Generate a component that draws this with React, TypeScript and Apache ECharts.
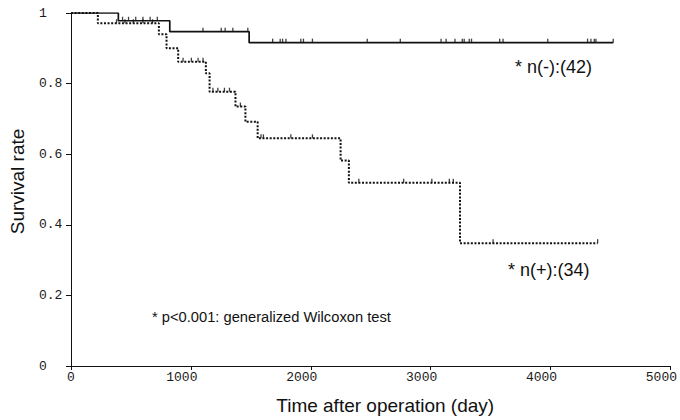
import React, { useEffect, useRef } from "react";
import * as echarts from "echarts";

// n(-) group: Kaplan-Meier step points (day, survival)
const negTimes = [0, 395, 824, 1486, 4523];
const negSurv = [1, 0.978, 0.947, 0.916, 0.916];
const negCensorDays = [
  430, 480, 540, 600, 660, 720, 1101, 1253, 1286, 1350, 1475, 1682, 1745, 1765, 1793,
  1917, 1939, 2014, 2471, 2747, 3087, 3129, 3203, 3264, 3280, 3322, 3341, 3576, 3604,
  3977, 4309, 4337, 4365, 4379, 4523,
];

// n(+) group
const posTimes = [0, 224, 733, 797, 894, 1125, 1156, 1372, 1455, 1557, 2249, 2318, 3245, 4393];
const posSurv = [1, 0.971, 0.94, 0.9, 0.862, 0.829, 0.777, 0.735, 0.692, 0.645, 0.582, 0.519, 0.348, 0.348];
const posCensorDays = [
  380, 450, 520, 600, 680, 935, 1004, 1060, 1101, 1184, 1225, 1280, 1322, 1413, 1585,
  1605, 1834, 2014, 2401, 2775, 3010, 3156, 3189, 3521, 4393,
];

const xTicks = [0, 1000, 2000, 3000, 4000, 5000];
const yTicks = [0, 0.2, 0.4, 0.6, 0.8, 1];

const survAt = (times: number[], surv: number[], t: number) => {
  let s = surv[0];
  for (let i = 0; i < times.length; i++) if (times[i] <= t) s = surv[i];
  return s;
};

export default function App() {
  const ref = useRef<HTMLDivElement>(null);
  useEffect(() => {
    if (!ref.current) return;
    const chart = echarts.init(ref.current, null, { renderer: "svg" });
    const ink = "#111";
    const mono = "Liberation Mono";
    const sans = "Liberation Sans";
    chart.setOption({
      animation: false,
      grid: { left: 69, right: 8, top: 13, bottom: 54 },
      xAxis: {
        type: "value",
        min: xTicks[0],
        max: xTicks[xTicks.length - 1],
        interval: 1000,
        name: "Time after operation (day)",
        nameLocation: "middle",
        nameGap: 30,
        nameTextStyle: { fontFamily: sans, fontSize: 19, color: ink, padding: [0, 0, 0, 29] },
        axisLine: { lineStyle: { color: ink, width: 1 } },
        axisTick: { length: 4, lineStyle: { color: ink } },
        splitLine: { show: false },
        axisLabel: {
          margin: 5,
          fontFamily: mono,
          fontSize: 13,
          color: "#1a1a1a",
          formatter: (v: number) => (v === 0 ? "0" : `{r|${v}}`),
          rich: { r: { fontFamily: mono, fontSize: 13, color: "#1a1a1a", padding: [0, 18, 0, 0] } },
        },
      },
      yAxis: {
        type: "value",
        min: yTicks[0],
        max: yTicks[yTicks.length - 1],
        interval: 0.2,
        name: "Survival rate",
        nameLocation: "middle",
        nameGap: 44,
        nameTextStyle: { fontFamily: sans, fontSize: 19, color: ink, padding: [0, 0, 0, 16] },
        axisLine: { show: true, lineStyle: { color: ink, width: 1 } },
        axisTick: { show: true, length: 5, lineStyle: { color: ink } },
        splitLine: { show: false },
        axisLabel: {
          margin: 32,
          align: "left",
          fontFamily: mono,
          fontSize: 13,
          color: "#1a1a1a",
          formatter: (v: number) => (v === 0 ? "0" : v === 1 ? "1" : v.toFixed(1)),
        },
      },
      series: [
        {
          type: "line",
          step: "end",
          symbol: "none",
          data: negTimes.map((t, i) => [t, negSurv[i]]),
          lineStyle: { color: ink, width: 1.7 },
        },
        {
          type: "line",
          step: "end",
          symbol: "none",
          data: posTimes.map((t, i) => [t, posSurv[i]]),
          lineStyle: { color: ink, width: 2, type: [2, 1.6] },
        },
        {
          type: "scatter",
          symbol: "rect",
          symbolSize: [1.3, 4],
          symbolOffset: [0, -2],
          itemStyle: { color: ink },
          data: negCensorDays.map((t) => [t, survAt(negTimes, negSurv, t)]),
        },
        {
          type: "scatter",
          symbol: "rect",
          symbolSize: [1.3, 4],
          symbolOffset: [0, -2],
          itemStyle: { color: ink },
          data: posCensorDays.map((t) => [t, survAt(posTimes, posSurv, t)]),
        },
      ],
      graphic: [
        {
          type: "text",
          x: 515,
          y: 67,
          style: { text: "* n(-):(42)", fontFamily: sans, fontSize: 18, fill: ink, verticalAlign: "middle" },
        },
        {
          type: "text",
          x: 508,
          y: 270,
          style: { text: "* n(+):(34)", fontFamily: sans, fontSize: 18, fill: ink, verticalAlign: "middle" },
        },
        {
          type: "text",
          x: 152,
          y: 317,
          style: {
            text: "* p<0.001: generalized Wilcoxon test",
            fontFamily: sans,
            fontSize: 14.7,
            fill: ink,
            verticalAlign: "middle",
          },
        },
      ],
    });
    return () => chart.dispose();
  }, []);
  return (
    <div
      ref={ref}
      style={{ position: "fixed", left: 0, top: 0, width: 680, height: 420, background: "#fff" }}
    />
  );
}
